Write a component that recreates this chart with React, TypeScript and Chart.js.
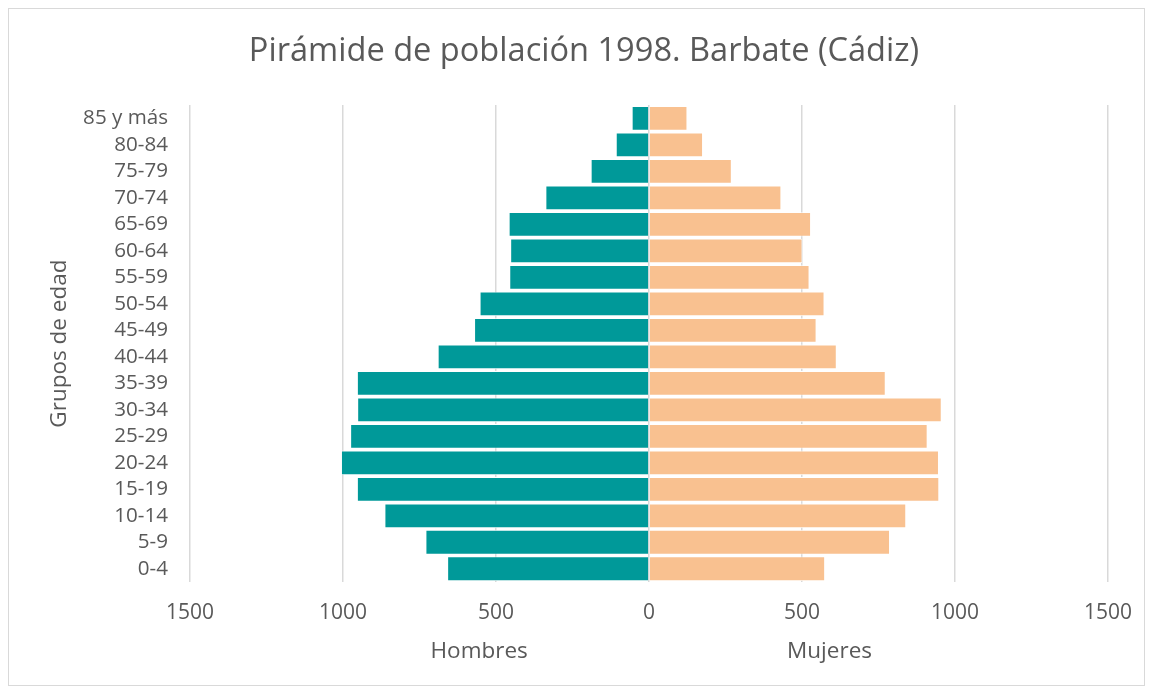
import React, { useEffect, useRef } from "react";
import { Chart, registerables } from "chart.js";

Chart.register(...registerables);

const ageGroups = ["0-4", "5-9", "10-14", "15-19", "20-24", "25-29", "30-34", "35-39", "40-44", "45-49", "50-54", "55-59", "60-64", "65-69", "70-74", "75-79", "80-84", "85 y más"];
const hombres = [659, 730, 864, 954, 1006, 976, 953, 954, 690, 571, 553, 456, 453, 458, 338, 190, 108, 56];
const mujeres = [575, 787, 840, 948, 947, 910, 956, 773, 613, 547, 573, 524, 501, 529, 432, 270, 176, 125];
const xTicks = [-1500, -1000, -500, 0, 500, 1000, 1500];
const sideLabels = ["Hombres", "Mujeres"];
const sideLabelAt = [-555, 590];

const FONT = "'Open Sans', 'DejaVu Sans', sans-serif";
const TEXT = "#595959";

const sideLabelPlugin = {
  id: "sideLabels",
  afterDraw(chart: any) {
    const ctx = chart.ctx;
    const xs = chart.scales.x;
    ctx.save();
    ctx.fillStyle = TEXT;
    ctx.font = `22.5px ${FONT}`;
    ctx.textAlign = "center";
    ctx.textBaseline = "middle";
    const y = chart.chartArea.bottom + 70;
    sideLabels.forEach((t, i) => ctx.fillText(t, xs.getPixelForValue(sideLabelAt[i]), y));
    ctx.restore();
  },
};

export default function App() {
  const ref = useRef<HTMLCanvasElement>(null);
  useEffect(() => {
    if (!ref.current) return;
    const chart = new Chart(ref.current, {
      type: "bar",
      data: {
        labels: ageGroups,
        datasets: [
          {
            label: "Hombres",
            data: hombres.map((v) => -v),
            backgroundColor: "#009999",
            borderColor: "#ffffff",
            borderWidth: 0.8,
            barPercentage: 0.92,
            categoryPercentage: 1,
          },
          {
            label: "Mujeres",
            data: mujeres,
            backgroundColor: "#F9C190",
            borderColor: "#ffffff",
            borderWidth: 0.8,
            barPercentage: 0.92,
            categoryPercentage: 1,
          },
        ],
      },
      options: {
        indexAxis: "y",
        animation: false,
        responsive: true,
        maintainAspectRatio: false,
        layout: { padding: { left: 33, right: 18, top: 0, bottom: 62 } },
        plugins: {
          legend: { display: false },
          tooltip: { enabled: false },
          title: {
            display: true,
            text: "Pirámide de población 1998. Barbate (Cádiz)",
            color: TEXT,
            font: { family: FONT, size: 32.6, weight: "normal" },
            padding: { top: 23, bottom: 34 },
          },
        },
        scales: {
          x: {
            stacked: true,
            min: -1500,
            max: 1500,
            afterBuildTicks: (axis: any) => {
              axis.ticks = xTicks.map((v) => ({ value: v }));
            },
            afterFit: (axis: any) => {
              axis.height = 41;
              axis.paddingRight = 36;
              axis.paddingLeft = 0;
            },
            ticks: {
              color: TEXT,
              font: { family: FONT, size: 21 },
              padding: 18,
              callback: (v: any) => String(Math.abs(Number(v))),
            },
            grid: { color: "#d9d9d9", lineWidth: 1.5, drawTicks: false },
            border: { display: false },
          },
          y: {
            stacked: true,
            reverse: true,
            afterFit: (axis: any) => {
              axis.width = 148;
            },
            ticks: {
              color: TEXT,
              font: { family: FONT, size: 20.6 },
              padding: 22,
              autoSkip: false,
            },
            grid: { display: false, drawTicks: false },
            border: { display: false },
            title: {
              display: true,
              text: "Grupos de edad",
              color: TEXT,
              font: { family: FONT, size: 22.5 },
              padding: { top: 4, bottom: 8 },
            },
          },
        },
      },
      plugins: [sideLabelPlugin],
    });
    return () => chart.destroy();
  }, []);
  return (
    <div style={{ width: 1135, height: 676, border: "1px solid #d9d9d9", background: "#fff" }}>
      <canvas ref={ref} />
    </div>
  );
}
